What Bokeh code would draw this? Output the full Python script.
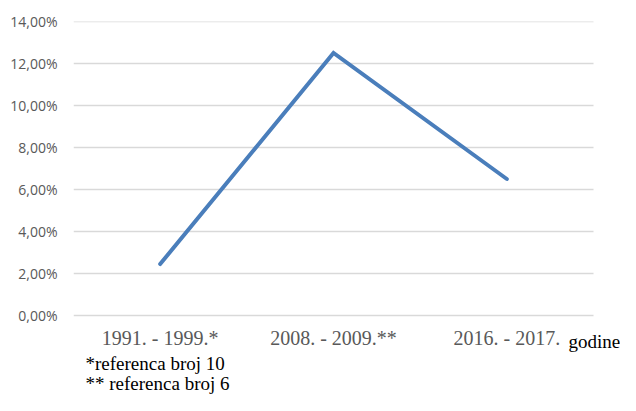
from bokeh.plotting import figure
from bokeh.models import Range1d, FixedTicker, CustomJSTickFormatter
from bokeh.core.properties import value
from bokeh.embed import file_html
from bokeh.resources import INLINE

categories = ["1991. - 1999.*", "2008. - 2009.**", "2016. - 2017."]
values = [2.45, 12.5, 6.5]
y_ticks = [0, 2, 4, 6, 8, 10, 12, 14]
x_title = "godine"
footnotes = ["*referenca broj 10", "** referenca broj 6"]

# layout constants (pixels)
W, H = 620, 395
left, top, right_plot, zero_px = 73, 21, 593, 315
y_max = y_ticks[-1]
px_per_y = (zero_px - top) / y_max
n = len(categories)
px_per_x = (right_plot - left) / n

def ypx(px):  # pixel row -> data y
    return (zero_px - px) / px_per_y

def xpx(px):  # pixel column -> data x
    return (px - left) / px_per_x

p = figure(width=W, height=H, output_backend="svg", toolbar_location=None,
           x_range=Range1d(0, xpx(W)), y_range=Range1d(ypx(H), y_max),
           min_border_left=left, min_border_top=top, min_border_right=0, min_border_bottom=0)

p.outline_line_color = None
p.background_fill_color = "white"
p.border_fill_color = "white"
p.xgrid.visible = False
p.ygrid.visible = False
p.xaxis.visible = False

# horizontal gridlines over the category span
p.segment(x0=[0] * len(y_ticks), x1=[n] * len(y_ticks), y0=y_ticks, y1=y_ticks,
          line_color="#d9d9d9", line_width=1.3)

xs = [i + 0.5 for i in range(n)]
p.line(x=xs, y=values, line_color="#4a7ebb", line_width=4, line_cap="round", line_join="miter")

p.yaxis.ticker = FixedTicker(ticks=y_ticks)
p.yaxis.formatter = CustomJSTickFormatter(code="return tick.toFixed(2).replace('.', ',') + '%';")
p.yaxis.axis_line_color = None
p.yaxis.major_tick_line_color = None
p.yaxis.minor_tick_line_color = None
p.yaxis.major_tick_out = 0
p.yaxis.major_tick_in = 0
p.yaxis.major_label_standoff = 16
p.yaxis.major_label_text_font = "Open Sans"
p.yaxis.major_label_text_font_size = "14px"
p.yaxis.major_label_text_color = "#595959"

# category labels
p.text(x=xs, y=[ypx(337)] * n, text=categories, text_font=value("Liberation Serif"),
       text_font_size="20px", text_color="#595959", text_align="center", text_baseline="alphabetic")

# axis title
p.text(x=[xpx(568)], y=[ypx(341)], text=[x_title], text_font=value("Liberation Serif"),
       text_font_size="19px", text_color="black", text_align="left", text_baseline="alphabetic")

# footnotes
p.text(x=[xpx(85)] * 2, y=[ypx(363), ypx(383)], text=footnotes, text_font=value("Liberation Serif"),
       text_font_size="19px", text_color="black", text_align="left", text_baseline="alphabetic")

open("out.html", "w").write(file_html(p, INLINE))
